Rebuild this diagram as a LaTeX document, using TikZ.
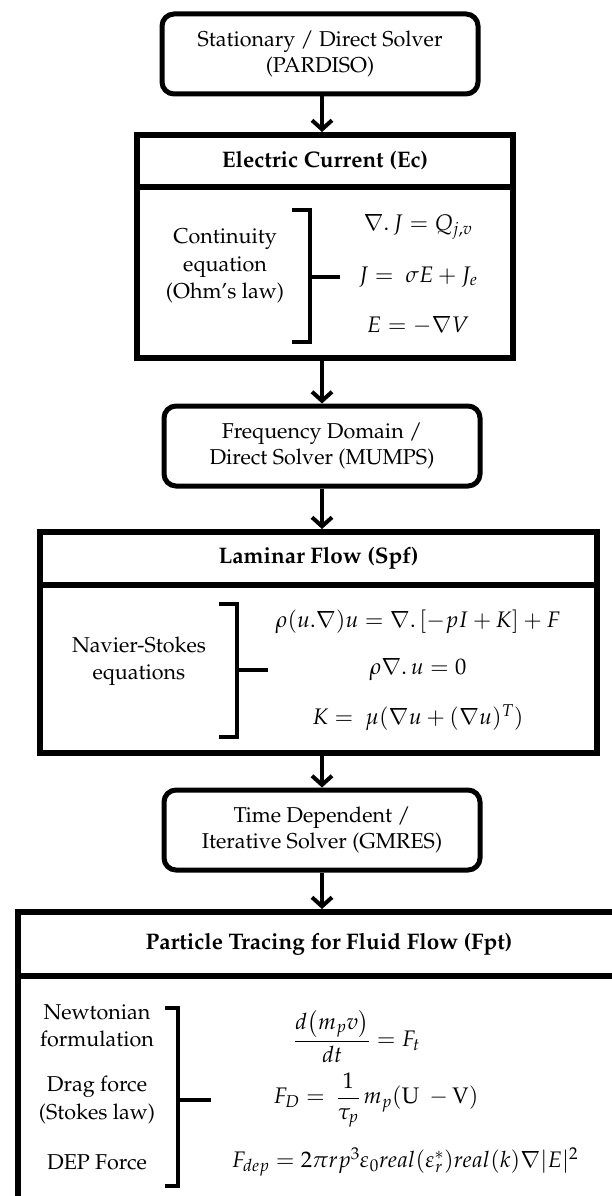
\documentclass[tikz,border=0pt]{standalone}
\usepackage[T1]{fontenc}
\usepackage{mathpazo}
\usepackage{amsmath}
\usetikzlibrary{arrows.meta,positioning}

\begin{document}
\begin{tikzpicture}[x=1pt,y=-1pt,
    solver/.style={draw,line width=5pt,rounded corners=12pt,minimum width=316pt,
      minimum height=80pt,align=center,font=\fontsize{21.5}{26}\selectfont},
    physbox/.style={draw,line width=6pt,inner sep=0pt},
    heading/.style={font=\fontsize{22.5}{27}\selectfont\bfseries},
    lbl/.style={align=center,font=\fontsize{21.5}{27.5}\selectfont},
    eqn/.style={font=\fontsize{22.5}{27}\selectfont},
    flow/.style={line width=4pt,-{Straight Barb[length=9pt,width=20pt]}},
    brack/.style={line width=3.5pt}]
    \clip (0,0) rectangle (612,1196);

    \node[solver] (stat) at (320,54) {Stationary / Direct Solver\\(PARDISO)};

    \node[physbox,minimum width=376pt,minimum height=223pt] (ec) at (325,246.5) {};
    \node[heading] (ectitle) at (325,161) {Electric Current (Ec)};
    \coordinate (ecdiv) at (0,187);
    \draw[line width=6pt] (ec.west |- ecdiv) -- (ec.east |- ecdiv);
    \node[lbl] (eclbl) at (225,266) {Continuity\\equation\\(Ohm's law)};
    \node[eqn] (ec1) at (418,227) {$\nabla.\,J = Q_{j,v}$};
    \node[eqn] (ec2) at (418,277) {$J =\ \sigma E + J_e$};
    \node[eqn] (ec3) at (418,325) {$E = -\nabla V$};
    \coordinate (ecbt) at (310,210);
    \coordinate (ecbb) at (310,342);
    \coordinate (ecbm) at (310,277);
    \coordinate (ecbx) at (340,277);
    \draw[brack] ([xshift=-18pt]ecbt) -- (ecbt) -- (ecbb) -- ([xshift=-18pt]ecbb);
    \draw[brack] (ecbm) -- (ecbx);

    \node[solver] (freq) at (322,446) {Frequency Domain /\\Direct Solver (MUMPS)};

    \node[physbox,minimum width=557pt,minimum height=221pt] (spf) at (318.5,642.5) {};
    \node[heading] (spftitle) at (318.5,558) {Laminar Flow (Spf)};
    \coordinate (spfdiv) at (0,585);
    \draw[line width=6pt] (spf.west |- spfdiv) -- (spf.east |- spfdiv);
    \node[lbl] (spflbl) at (139,661) {Navier-Stokes\\equations};
    \node[eqn] (spf1) at (418,622) {$\rho(u.\nabla)u = \nabla.\,[-pI + K] + F$};
    \node[eqn] (spf2) at (418,670) {$\rho\nabla.\,u = 0$};
    \node[eqn] (spf3) at (418,718) {$K =\ \mu(\nabla u + (\nabla u)^T)$};
    \coordinate (spfbt) at (237,604);
    \coordinate (spfbb) at (237,737);
    \coordinate (spfbm) at (237,670);
    \coordinate (spfbx) at (268,670);
    \draw[brack] ([xshift=-18pt]spfbt) -- (spfbt) -- (spfbb) -- ([xshift=-18pt]spfbb);
    \draw[brack] (spfbm) -- (spfbx);

    \node[solver] (time) at (322,830) {Time Dependent /\\Iterative Solver (GMRES)};

    \node[physbox,minimum width=632pt,minimum height=318pt] (fpt) at (334,1071) {};
    \node[heading] (fpttitle) at (329,944) {Particle Tracing for Fluid Flow (Fpt)};
    \coordinate (fptdiv) at (0,976);
    \draw[line width=6pt] (fpt.west |- fptdiv) -- (fpt.east |- fptdiv);
    \node[lbl] (fptlbl1) at (97,1026) {Newtonian\\formulation};
    \node[lbl] (fptlbl2) at (97,1100) {Drag force\\(Stokes law)};
    \node[lbl] (fptlbl3) at (97,1162) {DEP Force};
    \node[eqn] (fpt1) at (357,1036) {$\dfrac{d\bigl(m_p v\bigr)}{dt} = F_t$};
    \node[eqn] (fpt2) at (376,1100) {$F_D =\ \dfrac{1}{\tau_p}\, m_p(\mathrm{U}\ -\mathrm{V})$};
    \node[eqn] (fpt3) at (405,1162) {$F_{dep} = 2\pi r p^3\varepsilon_0 real(\varepsilon_r^*)real(k)\nabla|E|^2$};
    \coordinate (fptbt) at (178,1008);
    \coordinate (fptbb) at (178,1186);
    \coordinate (fptbm) at (178,1100);
    \coordinate (fptbx) at (211,1100);
    \draw[brack] ([xshift=-13pt]fptbt) -- (fptbt) -- (fptbb) -- ([xshift=-13pt]fptbb);
    \draw[brack] (fptbm) -- (fptbx);

    \draw[flow] (stat.south -| 322,0) -- (ec.north -| 322,0);
    \draw[flow] (ec.south -| 322,0) -- (freq.north -| 322,0);
    \draw[flow] (freq.south -| 322,0) -- (spf.north -| 322,0);
    \draw[flow] (spf.south -| 322,0) -- (time.north -| 322,0);
    \draw[flow] (time.south -| 322,0) -- (fpt.north -| 322,0);
\end{tikzpicture}
\end{document}
